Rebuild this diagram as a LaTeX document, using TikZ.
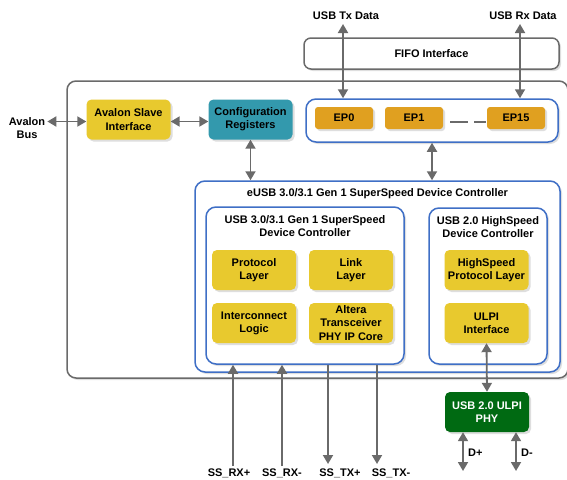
\documentclass[tikz,border=0pt]{standalone}
\usepackage{fontspec}
\setmainfont{Liberation Sans}
\usetikzlibrary{positioning, arrows.meta, shadows}

\definecolor{avyellow}{HTML}{E8C92E}
\definecolor{cfgteal}{HTML}{3399AD}
\definecolor{eporange}{HTML}{E0A020}
\definecolor{phygreen}{HTML}{006A12}
\definecolor{ctrlblue}{HTML}{3F6FC6}
\definecolor{wiregray}{HTML}{6A6A6A}

\newcommand\blkfont{\fontsize{11}{13.2}\selectfont\bfseries}

\tikzset{
  shd/.style={drop shadow={shadow xshift=2pt, shadow yshift=-2pt, fill=black!13, opacity=1}},
  blk/.style={shd, rounded corners=5pt, minimum width=84pt, minimum height=40pt,
              align=center, font=\blkfont, inner sep=0pt},
  epblk/.style={shd, fill=eporange, rounded corners=3pt, minimum width=58pt,
              minimum height=22pt, font=\blkfont, inner sep=0pt},
  ctrl/.style={shd, draw=ctrlblue, fill=white, line width=1.5pt, rounded corners=10pt, inner sep=0pt},
  lbl/.style={font=\blkfont, align=center, inner sep=0pt},
  dbl/.style={draw=wiregray, line width=1.8pt, {Triangle[length=9pt,width=10pt]}-{Triangle[length=9pt,width=10pt]}},
  uni/.style={draw=wiregray, line width=1.8pt, -{Triangle[length=9pt,width=10pt]}},
}

\begin{document}
\begin{tikzpicture}[x=1pt, y=-1pt]
    \useasboundingbox (0,0) rectangle (567,479);

    % --- Outer core box and FIFO ---
    \node[shd, draw=wiregray, fill=white, line width=1.5pt, rounded corners=9pt,
          minimum width=501pt, minimum height=297pt] (core) at (317.5,229.5) {};
    \node[shd, draw=wiregray, fill=white, line width=1.5pt, rounded corners=7pt,
          minimum width=255pt, minimum height=31pt, font=\blkfont] (fifo) at (431.5,53.5) {FIFO Interface};

    % --- Avalon side ---
    \node[lbl] (bus) at (27,128) {Avalon\\Bus};
    \node[blk, fill=avyellow] (slave) at (128.5,119.5) {Avalon Slave\\Interface};
    \node[blk, fill=cfgteal] (cfg) at (250.5,119.5) {Configuration\\Registers};

    % --- Endpoints ---
    \node[ctrl, minimum width=252pt, minimum height=43pt] (epbox) at (432,120.5) {};
    \node[epblk] (ep0) at (344,118) {EP0};
    \node[epblk] (ep1) at (414,118) {EP1};
    \node[epblk] (ep15) at (516,118) {EP15};
    \draw[wiregray, line width=1.6pt, dash pattern=on 18pt off 6pt]
        ([xshift=7pt]ep1.east |- 0,122) -- ([xshift=-1pt]ep15.west |- 0,122);

    % --- External data labels ---
    \node[lbl] (txlbl) at (346,16) {USB Tx Data};
    \node[lbl] (rxlbl) at (523,16) {USB Rx Data};
    \coordinate (txtop) at (343,24);
    \coordinate (rxtop) at (520,24);

    % --- eUSB controller ---
    \node[ctrl, minimum width=365pt, minimum height=191pt] (eusb) at (377.5,276.5) {};
    \node[lbl] (eusbtitle) at (377.5,194) {eUSB 3.0/3.1 Gen 1 SuperSpeed Device Controller};

    % SuperSpeed part
    \node[ctrl, minimum width=198pt, minimum height=157pt] (ss) at (305,285.5) {};
    \node[lbl] (sstitle) at (305,226) {USB 3.0/3.1 Gen 1 SuperSpeed\\Device Controller};
    \node[blk, fill=avyellow] (proto) at (254,270) {Protocol\\Layer};
    \node[blk, fill=avyellow] (link) at (351,270) {Link\\Layer};
    \node[blk, fill=avyellow] (icon) at (254,323) {Interconnect\\Logic};
    \node[blk, fill=avyellow] (xcvr) at (351,323) {Altera\\Transceiver\\PHY IP Core};

    % HighSpeed part
    \node[ctrl, minimum width=118pt, minimum height=156pt] (hs) at (488,286) {};
    \node[lbl] (hstitle) at (488,227) {USB 2.0 HighSpeed\\Device Controller};
    \node[blk, fill=avyellow] (hsproto) at (486.5,270) {HighSpeed\\Protocol Layer};
    \node[blk, fill=avyellow] (ulpi) at (486.5,323) {ULPI\\Interface};

    % --- PHY ---
    \node[blk, fill=phygreen, text=white] (phy) at (487,412) {USB 2.0 ULPI\\PHY};
    \coordinate (dpend) at (463,471);
    \coordinate (dmend) at (516,471);
    \node[lbl, anchor=west] (dplbl) at (468,453) {D+};
    \node[lbl, anchor=west] (dmlbl) at (521,453) {D-};

    % --- Serial lanes ---
    \node[lbl] (rxp) at (229,473) {SS\_RX+};
    \node[lbl] (rxm) at (282,473) {SS\_RX-};
    \node[lbl] (txp) at (340,473) {SS\_TX+};
    \node[lbl] (txm) at (391,473) {SS\_TX-};
    \coordinate (rxpend) at (233,466);
    \coordinate (rxmend) at (282,466);
    \coordinate (txpend) at (328,464);
    \coordinate (txmend) at (377,464);

    % --- Connectors ---
    \draw[dbl] (bus.east |- slave.west) ++(2,2) -- ([yshift=-2pt]slave.west);
    \draw[dbl] ([yshift=-2pt]slave.east) -- ([yshift=-2pt]cfg.west);
    \draw[dbl] (cfg.south) -- (cfg.south |- eusb.north);
    \draw[dbl] (epbox.south) -- (epbox.south |- eusb.north);
    \draw[dbl] (txtop) -- (txtop |- epbox.north);
    \draw[dbl] (rxtop) -- (rxtop |- epbox.north);
    \draw[dbl] (ulpi.south) -- (phy.north);
    \draw[dbl] (dpend |- phy.south) -- (dpend);
    \draw[dbl] (dmend |- phy.south) -- (dmend);
    \draw[uni] (rxpend) -- (rxpend |- ss.south);
    \draw[uni] (rxmend) -- (rxmend |- ss.south);
    \draw[uni] (txpend |- ss.south) -- (txpend);
    \draw[uni] (txmend |- ss.south) -- (txmend);

\end{tikzpicture}
\end{document}
